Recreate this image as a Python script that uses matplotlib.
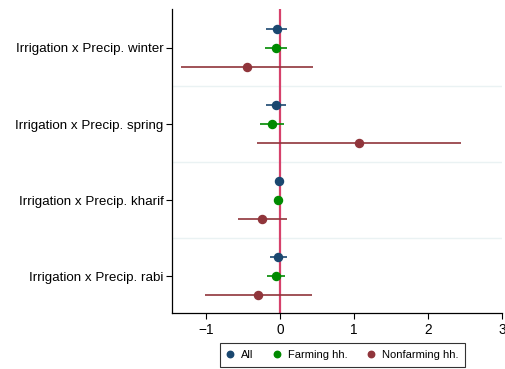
import matplotlib
matplotlib.use("Agg")
import matplotlib.pyplot as plt
import numpy as np

plt.rcParams['font.family'] = ['Liberation Sans', 'DejaVu Sans']

categories = ["Irrigation x Precip. winter", "Irrigation x Precip. spring",
              "Irrigation x Precip. kharif", "Irrigation x Precip. rabi"]
series = ["All", "Farming hh.", "Nonfarming hh."]

# point estimates and 95% CI bounds, one list per sample
est_all = [-0.045, -0.054, -0.013, -0.030]
lo_all = [-0.19, -0.19, -0.035, -0.14]
hi_all = [0.10, 0.085, 0.01, 0.09]

est_farm = [-0.06, -0.11, -0.03, -0.054]
lo_farm = [-0.20, -0.27, -0.06, -0.18]
hi_farm = [0.09, 0.05, 0.02, 0.07]

est_nonfarm = [-0.45, 1.07, -0.24, -0.30]
lo_nonfarm = [-1.34, -0.31, -0.57, -1.02]
hi_nonfarm = [0.45, 2.45, 0.09, 0.43]

xticks = [-1, 0, 1, 2, 3]

colors = ["#1a476f", "#008a00", "#90353b"]
offsets = [-0.25, 0.0, 0.25]

fig = plt.figure(figsize=(5.06, 3.69), dpi=100)
ax = fig.add_axes([172 / 506, 1 - 313 / 369, (502 - 172) / 506, (313 - 9) / 369])

pos = np.arange(len(categories))
for g in [0.5, 1.5, 2.5]:
    ax.axhline(g, color="#eaf2f3", lw=1.0, zorder=0)
ax.axvline(0, color="#d6416b", lw=1.6, zorder=1)

data = [(est_all, lo_all, hi_all), (est_farm, lo_farm, hi_farm),
        (est_nonfarm, lo_nonfarm, hi_nonfarm)]
for (est, lo, hi), c, off, name in zip(data, colors, offsets, series):
    y = pos + off
    est = np.array(est)
    ax.hlines(y, lo, hi, color=c, lw=1.2, zorder=2)
    ax.plot(est, y, "o", color=c, ms=5.8, zorder=3, label=name, linestyle="none")

ax.set_xlim(-1.46, 3.0)
ax.set_ylim(3.48, -0.51)
ax.set_yticks(pos)
ax.set_yticklabels(categories, fontsize=9.6)
ax.set_xticks(xticks)
ax.set_xticklabels(["\u22121", "0", "1", "2", "3"], fontsize=9.8)
ax.tick_params(axis="both", length=4, width=0.8, color="#000000", pad=2)
ax.tick_params(axis="x", pad=3)

for side in ["top", "right"]:
    ax.spines[side].set_visible(False)
for side in ["left", "bottom"]:
    ax.spines[side].set_linewidth(0.9)

leg = fig.legend(loc="center", bbox_to_anchor=(342.5 / 506, 1 - 355 / 369), ncol=3,
                 fontsize=8, frameon=True, fancybox=False, edgecolor="black",
                 handlelength=0.6, handletextpad=0.7, columnspacing=1.8,
                 markerscale=0.8, borderpad=0.6)
leg.get_frame().set_linewidth(0.8)

fig.savefig("out.png", dpi=100, facecolor="white")
